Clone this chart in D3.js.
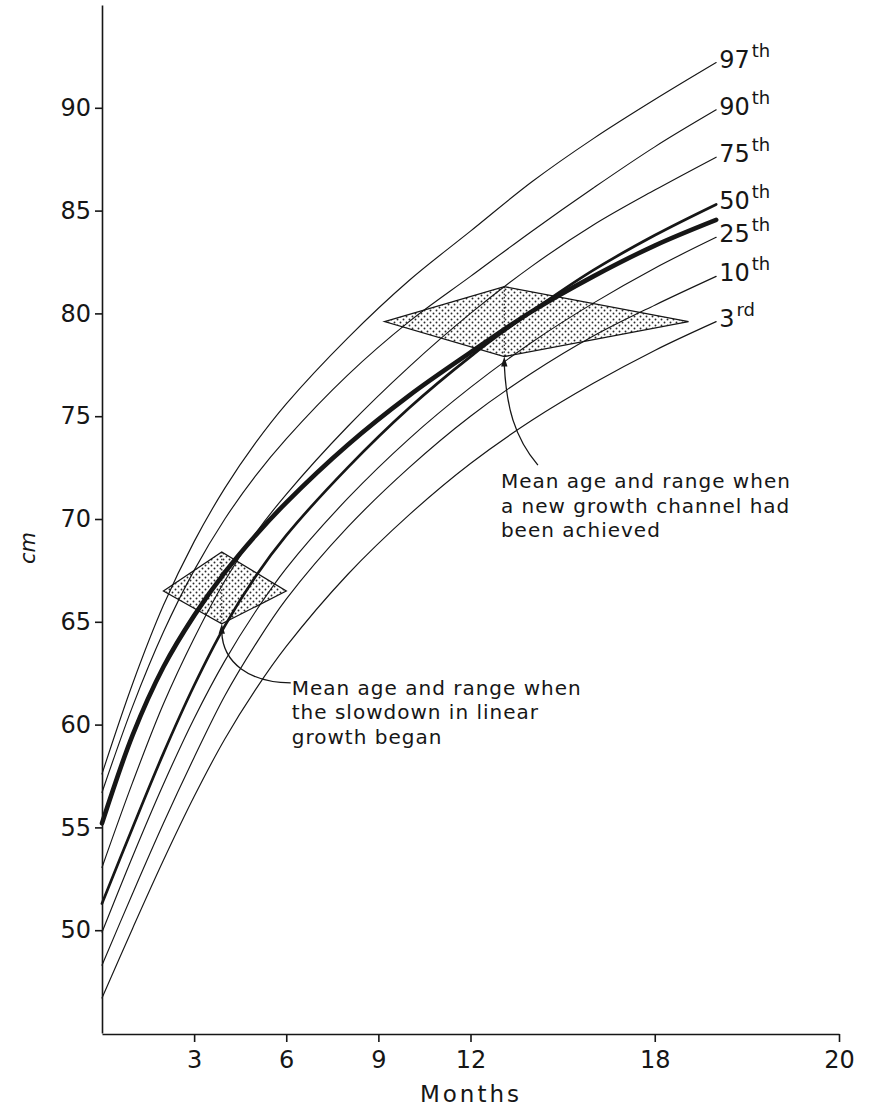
<!DOCTYPE html>
<html>
<head>
<meta charset="utf-8">
<script src="https://cdn.jsdelivr.net/npm/d3@7"></script>
<style>
  body { margin: 0; background: #fff; }
  svg { display: block; }
</style>
</head>
<body>
<svg id="chart" width="871" height="1111"></svg>
<script>
// Ages (months) at which each reference curve is tabulated
const months = [0, 1, 2, 3, 4, 5, 6, 8, 10, 12, 14, 16, 18, 20];

// Length-for-age percentile curves (cm)
const p97 = [57.6, 62.0, 65.8, 68.9, 71.5, 73.7, 75.6, 78.8, 81.6, 84.0, 86.4, 88.5, 90.4, 92.2];
const p90 = [56.7, 60.9, 64.5, 67.5, 70.0, 72.1, 73.9, 77.0, 79.6, 81.8, 84.0, 86.1, 88.1, 89.9];
const p75 = [53.05, 57.2, 61.0, 64.2, 67.0, 69.3, 71.2, 74.5, 77.4, 80.0, 82.3, 84.3, 86.0, 87.6];
const p50 = [51.3, 55.0, 58.6, 61.9, 64.8, 67.2, 69.2, 72.5, 75.4, 77.9, 80.1, 82.1, 83.8, 85.3];
const p25 = [49.9, 53.6, 57.1, 60.3, 63.1, 65.5, 67.6, 71.0, 73.9, 76.4, 78.6, 80.5, 82.2, 83.7];
const p10 = [48.3, 51.8, 55.2, 58.4, 61.4, 63.9, 66.1, 69.6, 72.5, 75.0, 77.1, 78.9, 80.4, 81.8];
const p3  = [46.7, 50.1, 53.4, 56.5, 59.3, 61.7, 63.8, 67.3, 70.2, 72.7, 74.8, 76.6, 78.2, 79.6];

// Mean growth of the study group (cm)
const groupMean = [55.2, 59.5, 62.8, 65.3, 67.4, 69.2, 70.8, 73.6, 76.0, 78.1, 80.1, 81.8, 83.3, 84.55];

// Percentile curve labels
const percentileNumbers = ["97", "90", "75", "50", "25", "10", "3"];
const percentileSuffixes = ["th", "th", "th", "th", "th", "th", "rd"];

// Axis ticks
const yTickValues = [50, 55, 60, 65, 70, 75, 80, 85, 90];
const xTickValues = [3, 6, 9, 12, 18, 24];
const xTickLabels = ["3", "6", "9", "12", "18", "20"];

// Mean age and range boxes: [slowdown began, new channel achieved]
const boxAgeMean = [3.9, 13.1];
const boxAgeMin  = [2.0, 9.2];
const boxAgeMax  = [6.0, 19.1];
const boxCmLow   = [64.9, 77.9];
const boxCmMid   = [66.5, 79.6];
const boxCmHigh  = [68.4, 81.3];

// Explanatory notes (text anchor given in months / cm)
const noteText = [
  ["Mean age and range when", "the slowdown in linear", "growth began"],
  ["Mean age and range when", "a new growth channel had", "been achieved"]
];
const noteMonth = [6.18, 12.99];
const noteCm = [61.45, 71.5];

const svg = d3.select("#chart");
const ink = "#161616";
const font = "'DejaVu Sans', sans-serif";

const x = d3.scaleLinear().domain([0, 24]).range([102, 839]);
const y = d3.scaleLinear().domain([45, 95]).range([1033, 5]);

// Stipple fill for the range boxes
const defs = svg.append("defs");
const pat = defs.append("pattern")
  .attr("id", "stipple")
  .attr("patternUnits", "userSpaceOnUse")
  .attr("width", 6).attr("height", 6);
pat.append("rect").attr("width", 6).attr("height", 6).attr("fill", "#fff");
pat.append("circle").attr("cx", 1.5).attr("cy", 1.5).attr("r", 0.95).attr("fill", "#2a2a2a");
pat.append("circle").attr("cx", 4.5).attr("cy", 4.5).attr("r", 0.95).attr("fill", "#2a2a2a");

// Range boxes (diamonds): left = youngest, right = oldest, top/bottom = height range
const boxes = boxAgeMean.map((m, i) => ({
  mean: m, min: boxAgeMin[i], max: boxAgeMax[i],
  low: boxCmLow[i], mid: boxCmMid[i], high: boxCmHigh[i]
}));
const boxPath = b => `M${x(b.min)},${y(b.mid)} L${x(b.mean)},${y(b.high)} L${x(b.max)},${y(b.mid)} L${x(b.mean)},${y(b.low)} Z`;

svg.append("g").selectAll("path").data(boxes).join("path")
  .attr("d", boxPath)
  .attr("fill", "url(#stipple)")
  .attr("stroke", "none");

// Curves
const line = d3.line()
  .x((d, i) => x(months[i]))
  .y(d => y(d))
  .curve(d3.curveCatmullRom.alpha(0.5));

const percentiles = [p97, p90, p75, p50, p25, p10, p3];
const curveG = svg.append("g").attr("fill", "none").attr("stroke", ink).attr("stroke-linecap", "round");
percentiles.forEach((vals, i) => {
  curveG.append("path")
    .attr("d", line(vals))
    .attr("stroke-width", percentileNumbers[i] === "50" ? 2.7 : 1.15);
});
curveG.append("path")
  .attr("d", line(groupMean))
  .attr("stroke-width", 4.6);

// Box outlines and mean-age markers
svg.append("g").selectAll("path").data(boxes).join("path")
  .attr("d", boxPath)
  .attr("fill", "none")
  .attr("stroke", ink)
  .attr("stroke-width", 1.3)
  .attr("stroke-linejoin", "miter");

svg.append("g").selectAll("line").data(boxes).join("line")
  .attr("x1", b => x(b.mean)).attr("x2", b => x(b.mean))
  .attr("y1", b => y(b.high)).attr("y2", b => y(b.low))
  .attr("stroke", ink)
  .attr("stroke-width", 1.1)
  .attr("stroke-dasharray", "1.6,1.8");

// Percentile labels at the end of each curve
const lastIdx = months.length - 1;
const labG = svg.append("g").attr("font-family", font).attr("fill", ink);
percentiles.forEach((vals, i) => {
  const t = labG.append("text")
    .attr("x", x(months[lastIdx]) + 3)
    .attr("y", y(vals[lastIdx]) + 5)
    .attr("font-size", 24);
  t.append("tspan").text(percentileNumbers[i]);
  t.append("tspan").attr("dx", 2).attr("dy", -11).attr("font-size", 18).text(percentileSuffixes[i]);
});

// Axes
const yAxis = d3.axisLeft(y).tickValues(yTickValues).tickSize(7).tickSizeOuter(0).tickPadding(4);
const gy = svg.append("g").attr("transform", `translate(${x(0)},0)`).call(yAxis);
const xAxis = d3.axisBottom(x).tickValues(xTickValues).tickSize(8).tickSizeOuter(0).tickPadding(9)
  .tickFormat((d, i) => xTickLabels[i]);
const gx = svg.append("g").attr("transform", `translate(0,${y(45) + 1})`).call(xAxis);

[gx, gy].forEach(g => {
  g.selectAll("path.domain").attr("stroke", ink).attr("stroke-width", 1.6);
  g.selectAll(".tick line").attr("stroke", ink).attr("stroke-width", 1.6);
  g.selectAll(".tick text").attr("font-family", font).attr("font-size", 24).attr("fill", ink);
});

// Axis titles
svg.append("text")
  .attr("x", 471)
  .attr("y", 1102)
  .attr("text-anchor", "middle")
  .attr("font-family", font).attr("font-size", 23).attr("letter-spacing", 3)
  .attr("fill", ink)
  .text("Months");

svg.append("text")
  .attr("transform", `translate(35,548) rotate(-90)`)
  .attr("text-anchor", "middle")
  .attr("font-family", font).attr("font-size", 21).attr("font-style", "italic")
  .attr("fill", ink)
  .text("cm");

// Notes with leader arrows
const noteG = svg.append("g").attr("font-family", font).attr("font-size", 20).attr("fill", ink).attr("letter-spacing", 1);
noteText.forEach((lines, i) => {
  const tx = x(noteMonth[i]), ty = y(noteCm[i]);
  const t = noteG.append("text").attr("x", tx).attr("y", ty);
  lines.forEach((s, j) => t.append("tspan").attr("x", tx).attr("dy", j === 0 ? 0 : 24.5).text(s));

  const ax = x(boxAgeMean[i]), ay = y(boxCmLow[i]);
  let d;
  if (i === 0) {
    const ex = tx - 1, ey = ty - 12;
    d = `M${ax},${ay + 8} C${ax + 1},${ey - 20} ${ax + 28},${ey} ${ex},${ey}`;
  } else {
    const ex = tx + 37, ey = ty - 23;
    d = `M${ax},${ay + 8} C${ax + 2},${ay + 50} ${ax + 10},${ey - 28} ${ex},${ey}`;
  }
  svg.append("path").attr("d", d).attr("fill", "none").attr("stroke", ink).attr("stroke-width", 1.3);
  svg.append("path")
    .attr("d", `M${ax},${ay} L${ax - 3.2},${ay + 10} L${ax + 3.2},${ay + 10} Z`)
    .attr("fill", ink);
});
</script>
</body>
</html>
